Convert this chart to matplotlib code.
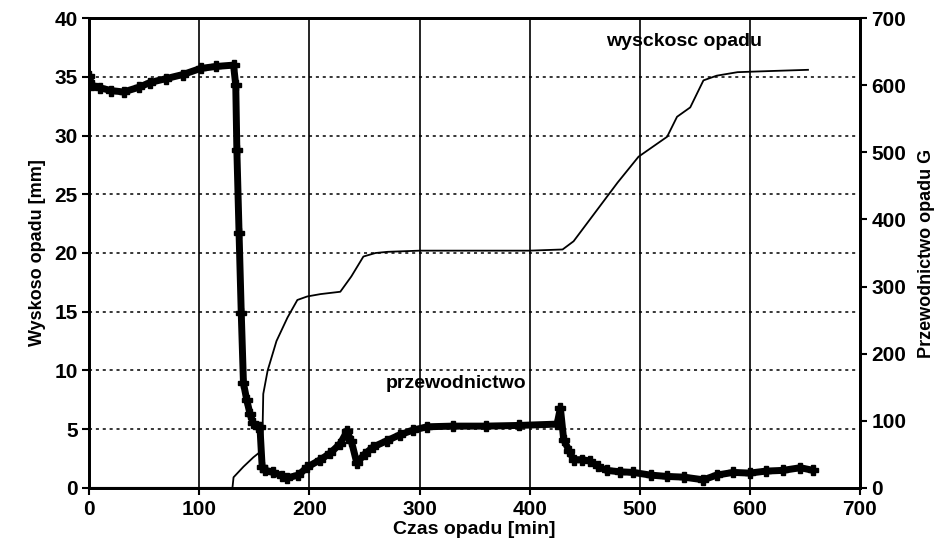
import matplotlib.pyplot as plt

plt.rcParams['font.family'] = ['Liberation Sans', 'DejaVu Sans']
plt.rcParams['font.weight'] = 'bold'
plt.rcParams['axes.labelweight'] = 'bold'

# Rain depth [mm] vs time [min]
rain_t = [0, 130, 131, 140, 149, 157, 158, 162, 170, 180, 189, 198, 210, 228,
          238, 249, 260, 271, 300, 350, 400, 430, 440, 460, 480, 499, 525, 534,
          546, 558, 570, 589, 620, 653]
rain_mm = [0, 0, 0.9, 1.8, 2.6, 3.2, 8.0, 10.0, 12.5, 14.5, 16.0, 16.3, 16.5, 16.7,
           18.0, 19.7, 20.0, 20.1, 20.2, 20.2, 20.2, 20.3, 21.0, 23.5, 26.0, 28.2,
           29.9, 31.6, 32.4, 34.7, 35.1, 35.4, 35.5, 35.6]

# Conductivity G vs time [min]
cond_t = [0, 2, 10, 20, 31, 45, 55, 70, 85, 101, 115, 131, 133, 134, 136, 138, 140,
          143, 146, 149, 153, 155, 157, 160, 167, 175, 180, 190, 198, 210, 219,
          228, 234, 238, 243, 250, 258, 270, 282, 294, 307, 330, 360, 390, 425,
          428, 431, 436, 440, 448, 455, 462, 470, 482, 494, 510, 525, 540, 558,
          570, 585, 600, 615, 630, 646, 658]
cond_g = [614, 600, 596, 592, 590, 597, 604, 610, 616, 625, 628, 630, 600, 504, 380,
          260, 156, 131, 110, 96, 91, 90, 31, 26, 23, 18, 15, 19, 31, 42, 52,
          66, 84, 70, 37, 50, 61, 70, 79, 86, 91, 92, 92, 93, 95,
          119, 72, 55, 42, 42, 40, 32, 26, 24, 23, 19, 17, 16, 12,
          19, 23, 22, 25, 26, 30, 26]

fig, ax = plt.subplots(figsize=(9.51, 5.5), dpi=100)
fig.subplots_adjust(left=0.094, right=0.904, bottom=0.113, top=0.967)
ax2 = ax.twinx()

ax.plot(rain_t, rain_mm, color='black', lw=1.3, zorder=3)
ax2.plot(cond_t, cond_g, color='black', lw=5, marker='P', markersize=7,
         solid_capstyle='round', solid_joinstyle='round', zorder=3)

ax.set_xlim(0, 700)
ax.set_ylim(0, 40)
ax2.set_ylim(0, 700)
ax.set_xticks(range(0, 701, 100))
ax.set_yticks(range(0, 41, 5))
ax2.set_yticks(range(0, 701, 100))

ax.grid(axis='x', color='black', lw=1.2, ls='-')
for v in range(5, 40, 5):
    ax.axhline(v, color='black', lw=1.1, ls=(0, (2, 2.5)), zorder=1)

for a in (ax, ax2):
    for s in a.spines.values():
        s.set_linewidth(2)
    a.tick_params(labelsize=15, width=1.5, length=5, direction='out')

ax.set_xlabel('Czas opadu [min]', fontsize=14, labelpad=2)
ax.set_ylabel('Wyskoso opadu [mm]', fontsize=13, labelpad=6)
ax2.set_ylabel('Przewodnictwo opadu G', fontsize=13, labelpad=8)

ax.text(540, 38, 'wysckosc opadu', fontsize=14, ha='center', va='center')
ax.text(333, 8.9, 'przewodnictwo', fontsize=14, ha='center', va='center')

fig.savefig('out.png', dpi=100)
